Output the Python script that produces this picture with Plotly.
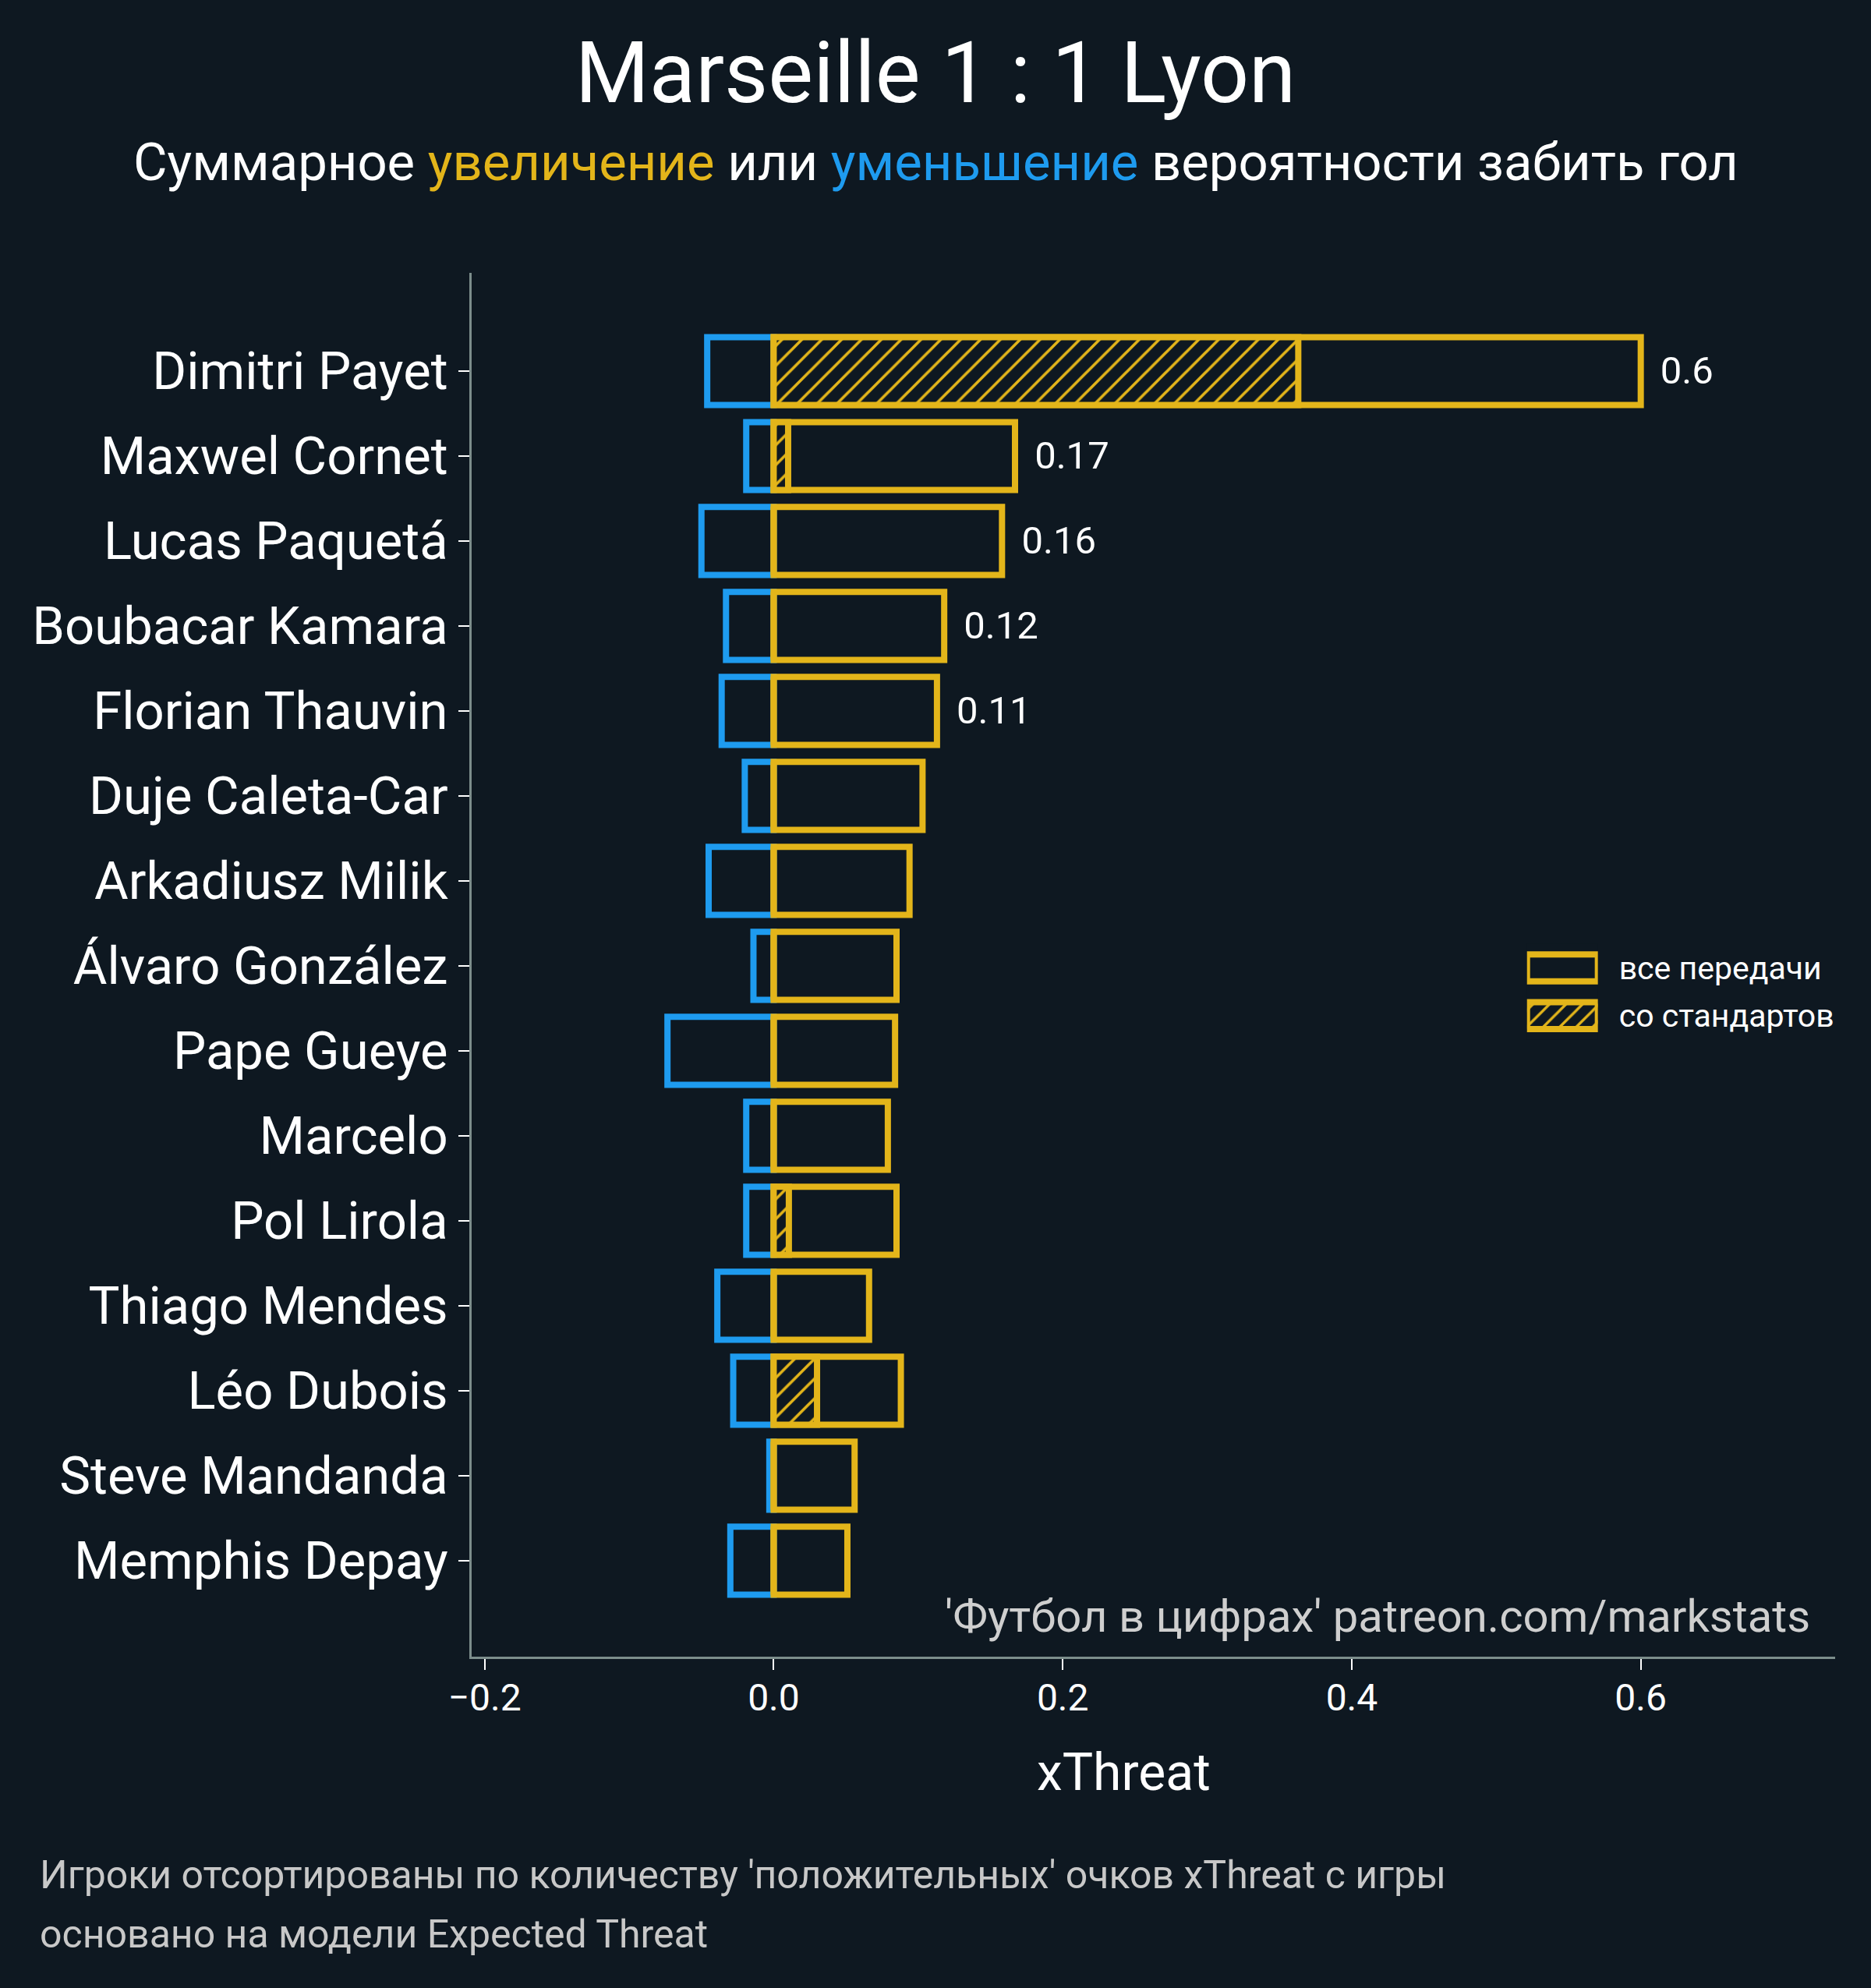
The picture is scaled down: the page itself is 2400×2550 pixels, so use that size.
import plotly.graph_objects as go

# players, top to bottom as in the chart
players = [
    "Dimitri Payet", "Maxwel Cornet", "Lucas Paquetá", "Boubacar Kamara",
    "Florian Thauvin", "Duje Caleta-Car", "Arkadiusz Milik", "Álvaro González",
    "Pape Gueye", "Marcelo", "Pol Lirola", "Thiago Mendes", "Léo Dubois",
    "Steve Mandanda", "Memphis Depay",
]
positive = [0.600, 0.167, 0.158, 0.118, 0.113, 0.103, 0.094, 0.085,
            0.084, 0.079, 0.085, 0.066, 0.088, 0.056, 0.051]
set_pieces = [0.363, 0.010, 0.0, 0.0, 0.0, 0.0, 0.0, 0.0,
              0.0, 0.0, 0.0105, 0.0, 0.030, 0.0, 0.0]
negative = [-0.046, -0.019, -0.050, -0.033, -0.036, -0.020, -0.045, -0.014,
            -0.0735, -0.019, -0.019, -0.039, -0.028, -0.003, -0.030]
value_labels = ["0.6", "0.17", "0.16", "0.12", "0.11"] + [""] * 10

legend_labels = ["все передачи", "со стандартов"]
legend_keys = [1, 1]

x_ticks = [-0.2, 0.0, 0.2, 0.4, 0.6]
x_tick_text = ["−0.2", "0.0", "0.2", "0.4", "0.6"]

BG = "#0E1821"
YELLOW = "#E3B51A"
BLUE = "#1E9BEF"
AXIS = "#7C8D8B"
FONT = "Roboto"
LW = 8

# plotly stacks categories bottom-up, so reverse
ys = players[::-1]
# small gap between bar end and its label
labels = [("\u00a0\u2009" + t) if t else "" for t in value_labels[::-1]]

fig = go.Figure()

fig.add_trace(go.Bar(
    y=ys, x=negative[::-1], orientation="h", width=0.8,
    marker=dict(color="rgba(0,0,0,0)", line=dict(color=BLUE, width=LW)),
    showlegend=False, hoverinfo="skip",
))
fig.add_trace(go.Bar(
    y=ys, x=positive[::-1], orientation="h", width=0.8,
    marker=dict(color="rgba(0,0,0,0)", line=dict(color=YELLOW, width=LW)),
    text=labels, textposition="outside", constraintext="none",
    textfont=dict(size=49, color="white", family=FONT),
    cliponaxis=False, showlegend=False, hoverinfo="skip",
))
fig.add_trace(go.Bar(
    y=ys, x=set_pieces[::-1], orientation="h", width=0.8,
    marker=dict(color=BG, line=dict(color=YELLOW, width=LW),
                pattern=dict(shape="/", fgcolor=YELLOW, bgcolor=BG,
                             size=18, solidity=0.2, fillmode="replace")),
    showlegend=False, hoverinfo="skip",
))

# legend drawn as two bars on a tiny axis so the keys are large boxes
fig.add_trace(go.Bar(
    y=legend_labels[::-1], x=legend_keys, orientation="h", width=0.56,
    xaxis="x2", yaxis="y2",
    marker=dict(color=BG, line=dict(color=YELLOW, width=LW),
                pattern=dict(shape=["/", ""], fgcolor=YELLOW, bgcolor=BG,
                             size=15, solidity=0.22, fillmode="replace")),
    showlegend=False, hoverinfo="skip",
))

fig.update_layout(
    width=2400, height=2550,
    paper_bgcolor=BG, plot_bgcolor=BG,
    font=dict(family=FONT, color="white"),
    barmode="overlay",
    margin=dict(l=605, r=46, t=350, b=425),
    title=dict(text="Marseille 1 : 1 Lyon", x=0.5, xanchor="center",
               y=1 - 93 / 2550, yanchor="middle", yref="container",
               font=dict(size=109, color="white", family=FONT)),
    xaxis=dict(range=[-0.209, 0.7345], tickvals=x_ticks, ticktext=x_tick_text,
               showgrid=False, zeroline=False, showline=True,
               linecolor=AXIS, linewidth=3, ticks="outside", ticklen=14,
               tickwidth=2, tickcolor="white", ticklabelstandoff=-6,
               tickfont=dict(size=48, color="white", family=FONT)),
    yaxis=dict(range=[-1.13, 15.156], showgrid=False, zeroline=False,
               showline=True, linecolor=AXIS, linewidth=3,
               ticks="outside", ticklen=14, tickwidth=2, tickcolor="white",
               tickfont=dict(size=67, color="white", family=FONT)),
    xaxis2=dict(domain=[0.774, 0.826], range=[0, 1], visible=False,
                anchor="y2"),
    yaxis2=dict(domain=[0.446, 0.515], anchor="x2", side="right",
                showgrid=False, zeroline=False, showline=False, ticks="",
                ticklabelstandoff=26,
                tickfont=dict(size=41, color="white", family=FONT)),
)

fig.add_annotation(
    text="Суммарное <span style='color:#E3B51A'>увеличение</span> или "
         "<span style='color:#1E9BEF'>уменьшение</span> вероятности забить гол",
    xref="paper", yref="paper", x=(1200 - 605) / 1749, y=(2125 - 208) / 1775,
    xanchor="center", yanchor="middle", showarrow=False,
    font=dict(size=67, color="white", family=FONT),
)
fig.add_annotation(
    text="xThreat", xref="paper", yref="paper",
    x=0.478, y=(2125 - 2273) / 1775, xanchor="center", yanchor="middle",
    showarrow=False, font=dict(size=66, color="white", family=FONT),
)
fig.add_annotation(
    text="'Футбол в цифрах' patreon.com/markstats", xref="paper", yref="paper",
    x=0.983, y=(2125 - 2073) / 1775, xanchor="right", yanchor="middle",
    showarrow=False, font=dict(size=58, color="#CFCFCF", family=FONT),
)
fig.add_annotation(
    text="Игроки отсортированы по количеству 'положительных' очков xThreat с игры",
    xref="paper", yref="paper", x=(49 - 605) / 1749, y=(2125 - 2405) / 1775,
    xanchor="left", yanchor="middle", showarrow=False,
    font=dict(size=50, color="#C8C8C8", family=FONT),
)
fig.add_annotation(
    text="основано на модели Expected Threat",
    xref="paper", yref="paper", x=(49 - 605) / 1749, y=(2125 - 2481) / 1775,
    xanchor="left", yanchor="middle", showarrow=False,
    font=dict(size=50, color="#C8C8C8", family=FONT),
)

fig.write_html(
    "out.html",
    config={"displayModeBar": False},
    post_script="document.body.style.margin='0';"
                "document.body.style.background='#0E1821';",
)
